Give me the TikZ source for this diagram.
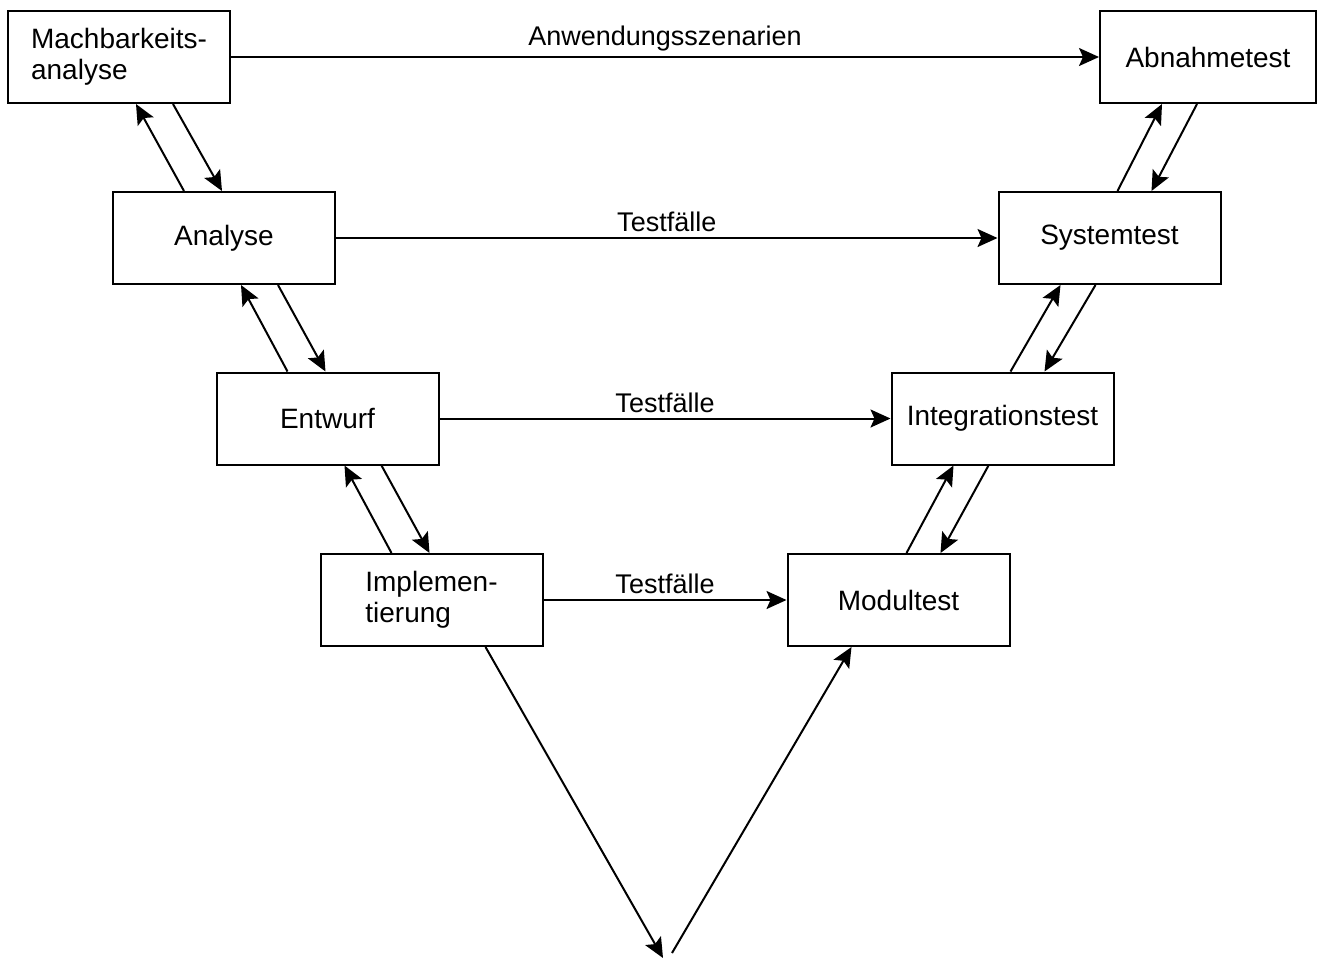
\documentclass[tikz,border=0pt]{standalone}
\usepackage{fontspec}
\setmainfont{Liberation Sans}
\usetikzlibrary{arrows.meta}
\tikzset{
  Kasten/.style={draw, line width=2pt, minimum width=222pt, minimum height=92pt,
    inner sep=0pt, align=left, font=\fontsize{28}{31}\selectfont}, % Phasen
  Spitze/.tip={Stealth[length=20pt,width=18pt,inset=4pt]}, % Pfeilspitze
  Pfeil/.style={line width=2pt, -Spitze}, % Verbindungen
  Beschriftung/.style={font=\fontsize{27}{31}\selectfont, inner sep=5pt} % Pfeiltexte
}

\begin{document}
\begin{tikzpicture}[x=1pt, y=-1pt]
\useasboundingbox (0,0) rectangle (1317,962);

%Linker Ast
\node[Kasten] (Mach) at (119,57)    {Machbarkeits-\\analyse};
\node[Kasten] (Ana)  at (224,238)   {Analyse};
\node[Kasten] (Entw) at (327.5,418.5) {Entwurf};
\node[Kasten] (Impl) at (431.5,600) {Implemen-\\tierung};

%Rechter Ast
\node[Kasten, minimum width=216pt] (Abn) at (1208,57) {Abnahmetest};
\node[Kasten] (Sys)  at (1109.5,238)  {Systemtest};
\node[Kasten] (Int)  at (1002.5,418.5) {Integrationstest};
\node[Kasten] (Mod)  at (898.5,600)   {Modultest};

%Spitze des V
\coordinate (Vl) at (663,958);
\coordinate (Vr) at (672,953);

%Querverbindungen
\draw[Pfeil] (Mach) -- node[above, Beschriftung]{Anwendungsszenarien} (Abn);
\draw[Pfeil] (Ana)  -- node[above, Beschriftung]{Testfälle} (Sys);
\draw[Pfeil] (Entw) -- node[above, Beschriftung]{Testfälle} (Int);
\draw[Pfeil] (Impl) -- node[above, Beschriftung]{Testfälle} (Mod);

%Rueckkopplungen links
\foreach \oben/\unten in {Mach/Ana, Ana/Entw, Entw/Impl}{
  \draw[Pfeil] ([xshift=72pt]\unten.north west) -- ([xshift=129pt]\oben.south west);
  \draw[Pfeil] ([xshift=166pt]\oben.south west) -- ([xshift=110pt]\unten.north west);
}

%Rueckkopplungen rechts
\foreach \oben/\unten in {Abn/Sys, Sys/Int, Int/Mod}{
  \draw[Pfeil] ([xshift=120pt]\unten.north west) -- ([xshift=63pt]\oben.south west);
  \draw[Pfeil] ([xshift=98pt]\oben.south west) -- ([xshift=154pt]\unten.north west);
}

%Uebergang unten
\draw[Pfeil] ([xshift=166pt]Impl.south west) -- (Vl);
\draw[Pfeil] (Vr) -- ([xshift=65pt]Mod.south west);

\end{tikzpicture}
\end{document}
